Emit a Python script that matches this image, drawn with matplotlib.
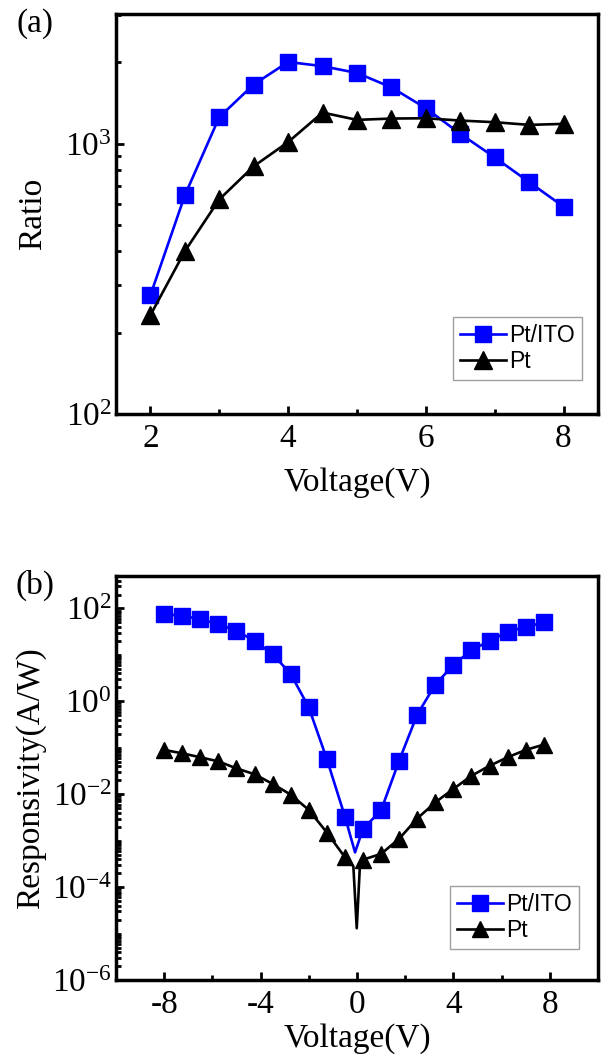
import matplotlib
matplotlib.use("Agg")
import matplotlib.pyplot as plt
import numpy as np
from matplotlib.ticker import FixedLocator, LogLocator, NullFormatter, LogFormatterMathtext, MultipleLocator

# panel (a): on/off ratio vs bias
voltage_a = [2.0, 2.5, 3.0, 3.5, 4.0, 4.5, 5.0, 5.5, 6.0, 6.5, 7.0, 7.5, 8.0]
ratio_ptito = [275, 644, 1254, 1656, 2007, 1936, 1827, 1616, 1353, 1088, 890, 721, 585]
ratio_pt = [232, 400, 622, 825, 1014, 1304, 1225, 1239, 1242, 1218, 1201, 1174, 1184]

# panel (b): responsivity vs bias (marker points)
voltage_b = [-8.0, -7.25, -6.5, -5.75, -5.0, -4.25, -3.5, -2.75, -2.0, -1.25, -0.5,
             0.25, 1.0, 1.75, 2.5, 3.25, 4.0, 4.75, 5.5, 6.25, 7.0, 7.75]
resp_ptito = [75.6, 69.5, 59, 46, 33, 20, 10.4, 3.9, 0.74, 0.057, 0.0033,
              0.0018, 0.0045, 0.053, 0.52, 2.3, 6.1, 12.7, 20, 31.5, 40, 50]
resp_pt = [0.090, 0.076, 0.0625, 0.051, 0.036, 0.027, 0.0167, 0.0098, 0.0046, 0.0015, 4.4e-4,
           3.9e-4, 5.2e-4, 0.0011, 0.003, 0.0067, 0.013, 0.025, 0.041, 0.0625, 0.090, 0.117]
# dips of the measured curves near zero bias (no markers there)
dip_x_ptito = [-0.08]
dip_y_ptito = [5.6e-4]
dip_x_pt = [-0.15, -0.01, 0.12]
dip_y_pt = [2.8e-4, 1.3e-5, 2.8e-4]

SERIF = "Liberation Serif"
SANS = "Liberation Sans"
plt.rcParams["font.family"] = SERIF
plt.rcParams["mathtext.fontset"] = "custom"
plt.rcParams["mathtext.rm"] = SERIF
plt.rcParams["axes.unicode_minus"] = False

BLUE = "#0000FF"
FS = 24


def with_dips(x, y, dx, dy):
    xs = np.array(list(x) + list(dx), dtype=float)
    ys = np.array(list(y) + list(dy), dtype=float)
    order = np.argsort(xs, kind="stable")
    xs, ys = xs[order], ys[order]
    marks = [i for i, v in enumerate(xs) if v in x]
    return xs, ys, marks


def style_axes(ax):
    for sp in ax.spines.values():
        sp.set_linewidth(2.5)
    ax.tick_params(which="both", direction="in", top=False, right=False,
                   labelsize=FS, width=2.0)
    ax.tick_params(axis="x", which="both", pad=7)
    ax.tick_params(axis="y", which="both", pad=3)
    ax.tick_params(which="major", length=6)
    ax.tick_params(which="minor", length=3.5)
    ax.yaxis.set_major_formatter(LogFormatterMathtext())
    ax.yaxis.set_minor_formatter(NullFormatter())


def add_legend(ax, anchor):
    leg = ax.legend(loc="lower right", bbox_to_anchor=anchor, prop={"family": SANS, "size": 16.5},
                    fancybox=False, frameon=True, edgecolor="#888888",
                    handlelength=2.0, handletextpad=0.15, borderpad=0.3,
                    labelspacing=0.15, borderaxespad=0.0)
    leg.get_frame().set_linewidth(1.0)


fig = plt.figure(figsize=(6.05, 10.59), dpi=100)
ax1 = fig.add_axes([0.1917, 0.6091, 0.7967, 0.3777])
ax2 = fig.add_axes([0.1917, 0.0746, 0.7967, 0.3815])

ax1.plot(voltage_a, ratio_ptito, color=BLUE, marker="s", markersize=12, linewidth=1.9,
         label="Pt/ITO")
ax1.plot(voltage_a, ratio_pt, color="black", marker="^", markersize=13, linewidth=1.9,
         label="Pt")
ax1.set_yscale("log")
ax1.set_xlim(1.5, 8.5)
ax1.set_ylim(100, 3020)
ax1.xaxis.set_major_locator(MultipleLocator(2))
ax1.xaxis.set_minor_locator(MultipleLocator(1))
ax1.yaxis.set_major_locator(FixedLocator([1e2, 1e3]))
ax1.yaxis.set_minor_locator(LogLocator(base=10, subs=np.arange(2, 10), numticks=20))
style_axes(ax1)
ax1.set_xlabel("Voltage(V)", fontsize=FS, va="center")
ax1.xaxis.set_label_coords(0.5, -0.172)
ax1.set_ylabel("Ratio", fontsize=FS, va="center")
ax1.yaxis.set_label_coords(-0.172, 0.5)
add_legend(ax1, (0.967, 0.085))

xb, yb, mb = with_dips(voltage_b, resp_ptito, dip_x_ptito, dip_y_ptito)
ax2.plot(xb, yb, color=BLUE, marker="s", markersize=11, linewidth=1.9,
         markevery=mb, label="Pt/ITO")
xk, yk, mk = with_dips(voltage_b, resp_pt, dip_x_pt, dip_y_pt)
ax2.plot(xk, yk, color="black", marker="^", markersize=12, linewidth=1.9,
         markevery=mk, label="Pt")
ax2.set_yscale("log")
ax2.set_xlim(-10, 10)
ax2.set_ylim(1e-6, 10 ** 2.7)
ax2.xaxis.set_major_locator(MultipleLocator(4))
ax2.xaxis.set_minor_locator(MultipleLocator(2))
ax2.yaxis.set_major_locator(FixedLocator([1e-6, 1e-4, 1e-2, 1e0, 1e2]))
ax2.yaxis.set_minor_locator(LogLocator(base=10, subs=np.arange(1, 10), numticks=40))
style_axes(ax2)
ax2.set_xlabel("Voltage(V)", fontsize=FS, va="center")
ax2.xaxis.set_label_coords(0.5, -0.145)
ax2.set_ylabel("Responsivity(A/W)", fontsize=FS, va="center")
ax2.yaxis.set_label_coords(-0.176, 0.5)
add_legend(ax2, (0.9606, 0.0767))

fig.text(0.028, 0.992, "(a)", fontsize=FS, va="top", ha="left")
fig.text(0.025, 0.462, "(b)", fontsize=FS, va="top", ha="left")

fig.savefig("out.png", dpi=100)
